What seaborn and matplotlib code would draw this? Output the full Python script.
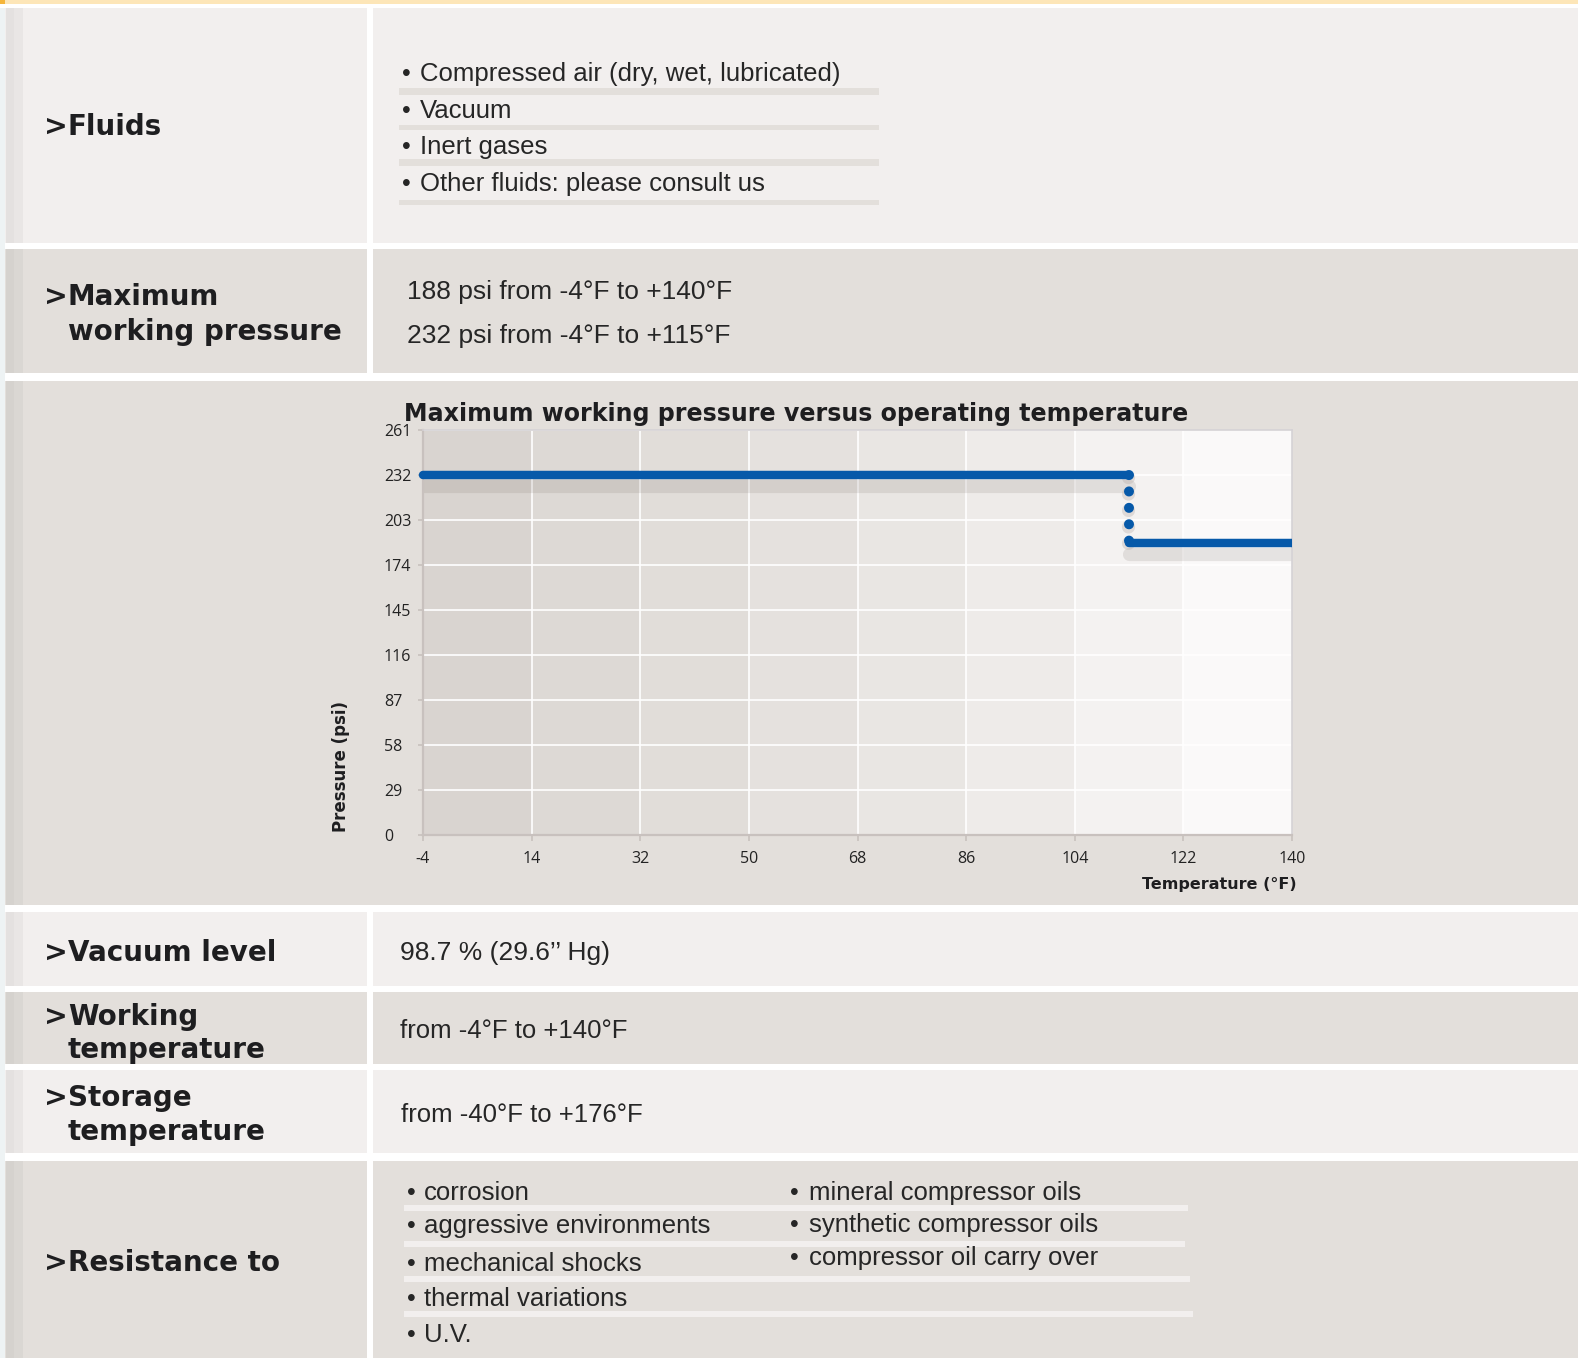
import matplotlib
matplotlib.use("Agg")
import matplotlib.pyplot as plt
from matplotlib.patches import Rectangle
from matplotlib import transforms
import seaborn as sns

# --- content of the sheet ---
fluid_items = ["Compressed air (dry, wet, lubricated)", "Vacuum", "Inert gases",
               "Other fluids: please consult us"]
pressure_lines = ["188 psi from -4°F to +140°F", "232 psi from -4°F to +115°F"]
vacuum_text = "98.7 % (29.6’’ Hg)"
working_text = "from -4°F to +140°F"
storage_text = "from -40°F to +176°F"
resist_left = ["corrosion", "aggressive environments", "mechanical shocks",
               "thermal variations", "U.V."]
resist_right = ["mineral compressor oils", "synthetic compressor oils",
                "compressor oil carry over"]

# --- chart data ---
chart_title = "Maximum working pressure versus operating temperature"
temp_ticks = [-4, 14, 32, 50, 68, 86, 104, 122, 140]
psi_ticks = [0, 29, 58, 87, 116, 145, 174, 203, 232, 261]
step_temp = [-4, 113, 113, 140]
step_psi = [232, 232, 188, 188]

W, H = 1578, 1358
LIGHT, DARK = "#f2efee", "#e3dfdb"
HEAD = ["DejaVu Sans"]
BODY = ["Liberation Sans Narrow", "Liberation Sans", "DejaVu Sans"]
TICK = ["Open Sans", "DejaVu Sans"]
INK = "#1e1e20"
BLUE = "#0659a9"

sns.set_style("white")
plt.rcParams["font.family"] = BODY
plt.rcParams["axes.unicode_minus"] = False

fig = plt.figure(figsize=(W / 100, H / 100), dpi=100, facecolor="white")
bg = fig.add_axes([0, 0, 1, 1])
bg.set_xlim(0, W)
bg.set_ylim(H, 0)
bg.axis("off")


def box(x0, y0, x1, y1, color, alpha=1.0):
    bg.add_patch(Rectangle((x0, y0), x1 - x0, y1 - y0, facecolor=color,
                           edgecolor="none", alpha=alpha))


# top band
box(0, 0, W, 4, "#fde6b8")
box(0, 0, 5, 4, "#f5b53a")
box(0, 8, 5, H, "#eef3f4")

# table rows: top, bottom, colour, split into two cells
rows = [(8, 243, LIGHT, True), (249, 373, DARK, True), (381, 905, DARK, False),
        (912, 986, LIGHT, True), (992, 1064, DARK, True), (1070, 1153, LIGHT, True),
        (1161, H, DARK, True)]
for top, bot, col, split in rows:
    if split:
        box(5, top, 367, bot, col)
        box(373, top, W, bot, col)
    else:
        box(5, top, W, bot, col)
    box(6, top, 23, bot, "black", 0.035)
    box(6, top, 14, bot, "black", 0.02)


def head(y, word, second=None, y2=None):
    bg.text(44, y, ">", fontsize=20.5, fontweight="bold", family=HEAD,
            color=INK, va="baseline")
    bg.text(68, y, word, fontsize=20, fontweight="bold", family=HEAD,
            color=INK, va="baseline")
    if second:
        bg.text(68, y2, second, fontsize=20, fontweight="bold", family=HEAD,
                color=INK, va="baseline")


def body(x, y, s, size=18.5):
    bg.text(x, y, s, fontsize=size, family=BODY, color="#262626", va="baseline")


# Fluids
head(135, "Fluids")
bar_y = [88, 125, 159, 200]
bar_h = [7, 5, 7, 5]
for base, item, by, bh in zip([81, 118, 154, 191], fluid_items, bar_y, bar_h):
    box(399, by, 879, by + bh, DARK)
    bg.text(406, base, "•", fontsize=18, family=BODY, color="#262626",
            va="baseline", ha="center")
    body(420, base, item)

# Maximum working pressure
head(305, "Maximum", "working pressure", 340)
for base, line in zip([299, 343], pressure_lines):
    body(407, base, line, 19)

# Vacuum / temperatures
head(961, "Vacuum level")
body(400, 960, vacuum_text, 19)
head(1025, "Working", "temperature", 1058)
body(400, 1038, working_text)
head(1106, "Storage", "temperature", 1140)
body(401, 1122, storage_text)

# Resistance
head(1271, "Resistance to")
for by, x1 in zip([1205, 1241, 1276, 1311], [1188, 1185, 1190, 1193]):
    box(404, by, x1, by + 6, LIGHT)
for base, item in zip([1200, 1233, 1271, 1306, 1342], resist_left):
    bg.text(411, base, "•", fontsize=18, family=BODY, color="#262626",
            va="baseline", ha="center")
    body(424, base, item)
for base, item in zip([1200, 1232, 1265], resist_right):
    bg.text(794, base, "•", fontsize=18, family=BODY, color="#262626",
            va="baseline", ha="center")
    body(809, base, item)

# --- chart ---
bg.text(404, 421, chart_title, fontsize=17.1, fontweight="bold", family=HEAD,
        color=INK, va="baseline")
bg.text(341, 767, "Pressure (psi)", fontsize=12, fontweight="bold", family=HEAD,
        color=INK, rotation=90, ha="center", va="center")
bg.text(1297, 889, "Temperature (°F)", fontsize=11.5, fontweight="bold", family=HEAD,
        color=INK, ha="right", va="baseline")

ax = fig.add_axes([423 / W, (H - 835) / H, 869 / W, 405 / H])
band_colors = ["#d9d4d0", "#ddd9d5", "#e1ddd9", "#e5e1de", "#e9e6e3",
               "#eeebe9", "#f4f2f1", "#faf9f9"]
for i, c in enumerate(band_colors):
    ax.axvspan(temp_ticks[i], temp_ticks[i + 1], color=c, lw=0, zorder=0)

ax.set_xlim(temp_ticks[0], temp_ticks[-1])
ax.set_ylim(psi_ticks[0], psi_ticks[-1])
ax.set_xticks(temp_ticks)
ax.set_yticks(psi_ticks)
ax.set_axisbelow(True)
ax.grid(True, color="white", lw=1.2)
ax.tick_params(axis="y", direction="out", length=3.6, width=1.2, color="#c8c1be",
               pad=24.5, labelsize=11.5, labelcolor="#222222", labelfontfamily=TICK,
               left=True)
ax.tick_params(axis="x", direction="out", length=4.3, width=1.2, color="#c8c1be",
               pad=7, labelsize=11.5, labelcolor="#222222", labelfontfamily=TICK,
               bottom=True)
for lab in ax.get_yticklabels():
    lab.set_horizontalalignment("left")
for side in ["top", "right"]:
    ax.spines[side].set_color("#d5d2d5")
    ax.spines[side].set_linewidth(1.2)
for side in ["left", "bottom"]:
    ax.spines[side].set_color("#c8c1be")
    ax.spines[side].set_linewidth(1.6)

# shadows under the step line
shadow_tf = transforms.offset_copy(ax.transData, fig=fig, x=0, y=-11, units="dots")
for a, b in [(0, 2), (2, 4)]:
    sns.lineplot(x=step_temp[a:b], y=step_psi[a:b], ax=ax, color="#7d716b", alpha=0.16,
                 lw=9.5, solid_capstyle="round", estimator=None, sort=False,
                 legend=False, transform=shadow_tf, zorder=2)
halo_tf = transforms.offset_copy(ax.transData, fig=fig, x=-1, y=-2, units="dots")
sns.lineplot(x=step_temp[1:3], y=step_psi[1:3], ax=ax, color="#b5aca7", alpha=0.35,
             lw=9.5, linestyle=(0, (0.01, 1.237)), dash_capstyle="round",
             estimator=None, sort=False, legend=False, transform=halo_tf,
             clip_on=False, zorder=2)

# the step line itself
sns.lineplot(x=step_temp[0:2], y=step_psi[0:2], ax=ax, color=BLUE, lw=6.1,
             solid_capstyle="round", estimator=None, sort=False, legend=False,
             clip_on=False, zorder=3)
sns.lineplot(x=step_temp[2:4], y=step_psi[2:4], ax=ax, color=BLUE, lw=6.1,
             solid_capstyle="round", estimator=None, sort=False, legend=False,
             zorder=3)
sns.lineplot(x=step_temp[1:3], y=step_psi[1:3], ax=ax, color=BLUE, lw=7.2,
             linestyle=(0, (0.01, 1.63)), dash_capstyle="round", estimator=None,
             sort=False, legend=False, clip_on=False, zorder=3)
ax.set_xlabel("")
ax.set_ylabel("")

fig.savefig("out.png", dpi=100, facecolor="white")
